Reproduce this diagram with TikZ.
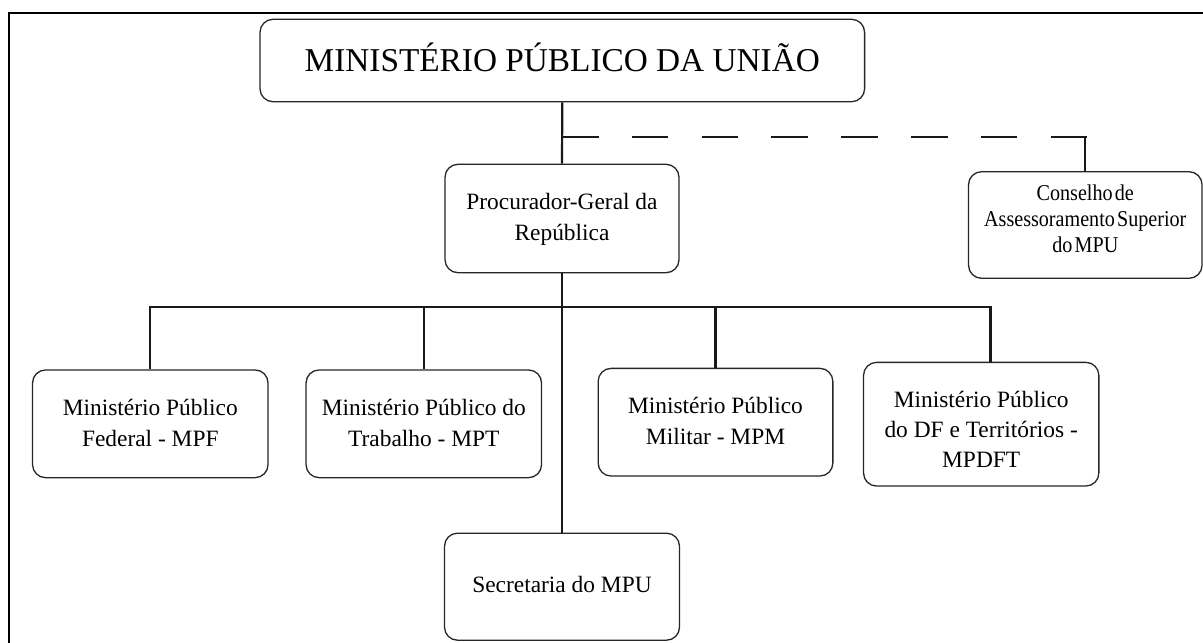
\documentclass[tikz,border=0pt]{standalone}
\usepackage{fontspec}
\setmainfont{Liberation Serif}
\newfontfamily\condfont[FakeStretch=0.89,WordSpace=0.45]{Liberation Serif}
\newcommand\bodyfnt{\fontsize{23.4}{31}\selectfont}
\newcommand\titlefnt{\fontsize{33.3}{40}\selectfont}
\newcommand\casfnt{\condfont\fontsize{22.6}{26}\selectfont}
\begin{document}
\begin{tikzpicture}[x=1pt,y=-1pt,
  orgbox/.style={draw=black!85, line width=1.3pt, rounded corners=13pt,
    inner sep=0pt, anchor=center},
  orgtext/.style={align=center, inner sep=0pt, font=\bodyfnt, anchor=center},
  conn/.style={line width=2.2pt, draw=black!90},
  dashconn/.style={conn, dash pattern=on 36.5pt off 33.3pt},
  frameline/.style={line width=2pt}]
\useasboundingbox (0,0) rectangle (1203,643);
\fill[white] (0,0) rectangle (1203,643);
\draw[frameline] (8.5,650) -- (8.5,13.3) -- (1210,13.3);

% boxes
\node[orgbox, minimum width=604.6pt, minimum height=82.4pt] (top) at (562.3,60.5) {};
\node[orgbox, minimum width=234pt, minimum height=108.4pt] (pgr) at (562,218.5) {};
\node[orgbox, minimum width=233.5pt, minimum height=106.6pt] (cas) at (1085.3,225) {};
\node[orgbox, minimum width=235.5pt, minimum height=107.7pt] (mpf) at (150.3,423.8) {};
\node[orgbox, minimum width=235.5pt, minimum height=107.7pt] (mpt) at (423.8,423.8) {};
\node[orgbox, minimum width=234.7pt, minimum height=107.7pt] (mpm) at (715.5,422.2) {};
\node[orgbox, minimum width=235.3pt, minimum height=123.7pt] (mpdft) at (981.2,424.2) {};
\node[orgbox, minimum width=235pt, minimum height=107pt] (sec) at (562,586.7) {};

% texts
\node[orgtext, font=\titlefnt] (top-t) at ([yshift=3.5pt]top.center) {MINISTÉRIO PÚBLICO DA UNIÃO};
\node[orgtext] (pgr-t) at ([yshift=-0.5pt]pgr.center) {Procurador-Geral da\\República};
\node[orgtext, font=\casfnt] (cas-t) at ([yshift=6.7pt]cas.center) {Conselho de\\Assessoramento Superior\\do MPU};
\node[orgtext] (mpf-t) at ([yshift=0.5pt]mpf.center) {Ministério Público\\Federal - MPF};
\node[orgtext] (mpt-t) at ([yshift=0.5pt]mpt.center) {Ministério Público do\\Trabalho - MPT};
\node[orgtext] (mpm-t) at ([yshift=1.5pt]mpm.center) {Ministério Público\\Militar - MPM};
\node[orgtext, font=\fontsize{23.4}{30}\selectfont] (mpdft-t) at ([yshift=-5pt]mpdft.center) {Ministério Público\\do DF e Territórios -\\MPDFT};
\node[orgtext] (sec-t) at ([yshift=2.5pt]sec.center) {Secretaria do MPU};

\coordinate (dj) at (562,137.3);
\coordinate (dend) at (1088,137.3);
\coordinate (bus) at (562,307.3);
\coordinate (mpdftin) at (990.4,362.3);

\draw[conn] (top.south) -- (pgr.north);
\draw[dashconn] (dj) -- (dend);
\draw[conn] (cas.north |- dend) -- (cas.north);
\draw[conn] (pgr.south) -- (sec.north);
\draw[conn] (mpf.north) |- (mpdftin |- bus) -- (mpdftin);
\draw[conn] (mpt.north) -- (mpt.north |- bus);
\draw[conn] (mpm.north) -- (mpm.north |- bus);
\end{tikzpicture}
\end{document}
